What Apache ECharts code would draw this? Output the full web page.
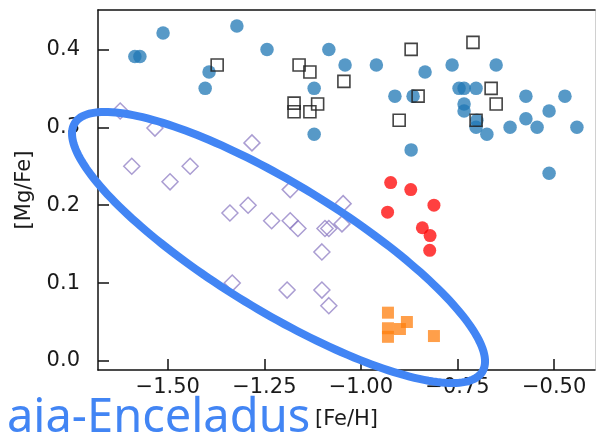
<!DOCTYPE html>
<html>
<head>
<meta charset="utf-8">
<script src="https://cdn.jsdelivr.net/npm/echarts@6.0.0/dist/echarts.min.js"></script>
<style>
  html, body { margin: 0; padding: 0; background: #fff; }
  #chart { width: 598px; height: 432px; }
</style>
</head>
<body>
<div id="chart"></div>
<script>
// Tick positions
const xTicks = [-1.5, -1.25, -1.0, -0.75, -0.5];
const yTicks = [0.0, 0.1, 0.2, 0.3, 0.4];

// [Fe/H], [Mg/Fe] pairs for each star group
const blueStars = [
  [-1.585, 0.391], [-1.572, 0.391], [-1.512, 0.421], [-1.321, 0.430], [-1.243, 0.400],
  [-1.393, 0.371], [-1.403, 0.350], [-1.083, 0.400], [-1.041, 0.380], [-0.960, 0.380],
  [-0.834, 0.371], [-1.121, 0.350], [-1.121, 0.291], [-0.912, 0.340], [-0.865, 0.340],
  [-0.870, 0.271], [-0.764, 0.380], [-0.650, 0.380], [-0.746, 0.350], [-0.733, 0.350],
  [-0.702, 0.350], [-0.733, 0.330], [-0.733, 0.321], [-0.700, 0.309], [-0.702, 0.300],
  [-0.674, 0.291], [-0.614, 0.300], [-0.573, 0.340], [-0.573, 0.311], [-0.544, 0.300],
  [-0.513, 0.321], [-0.472, 0.340], [-0.441, 0.300], [-0.513, 0.241]
];
const openSquares = [
  [-1.372, 0.380], [-1.160, 0.380], [-1.132, 0.371], [-1.044, 0.359], [-1.173, 0.331],
  [-1.173, 0.320], [-1.112, 0.330], [-1.132, 0.320], [-0.870, 0.400], [-0.901, 0.309],
  [-0.852, 0.340], [-0.710, 0.409], [-0.663, 0.350], [-0.650, 0.330], [-0.702, 0.309]
];
const diamondStars = [
  [-1.623, 0.321], [-1.533, 0.299], [-1.282, 0.280], [-1.593, 0.250], [-1.442, 0.250],
  [-1.494, 0.230], [-1.183, 0.220], [-1.339, 0.190], [-1.292, 0.200], [-1.231, 0.180],
  [-1.183, 0.180], [-1.163, 0.170], [-1.093, 0.170], [-1.083, 0.170], [-1.049, 0.176],
  [-1.046, 0.202], [-1.101, 0.140], [-1.333, 0.100], [-1.191, 0.091], [-1.101, 0.091],
  [-1.083, 0.071]
];
const redStars = [
  [-0.923, 0.229], [-0.871, 0.220], [-0.811, 0.200], [-0.931, 0.191],
  [-0.841, 0.171], [-0.821, 0.161], [-0.822, 0.142]
];
const orangeStars = [
  [-0.930, 0.062], [-0.881, 0.050], [-0.930, 0.042], [-0.899, 0.041],
  [-0.930, 0.031], [-0.811, 0.032]
];

// Highlight ellipse: centre in data units, half-axes in pixels, tilt in degrees
const ringCenter = [-1.2132, 0.1457];
const ringRadii = [238.7, 63.6];
const ringTilt = 31.35;

const X_MIN = -1.6804, X_MAX = -0.3942;
const Y_MIN = -0.0116, Y_MAX = 0.4506;

const fmtX = v => (v < 0 ? '\u2212' : '') + Math.abs(v).toFixed(2);
const fmtY = v => v.toFixed(1);

const tickFont = { fontFamily: 'DejaVu Sans', fontSize: 21, color: '#1a1a1a' };

const chart = echarts.init(document.getElementById('chart'), null, { renderer: 'canvas' });

const option = {
  animation: false,
  backgroundColor: '#fff',
  grid: { left: 98, right: 3, top: 10, bottom: 62, outerBoundsMode: 'none' },
  xAxis: [{
    type: 'value', min: X_MIN, max: X_MAX, position: 'bottom',
    name: '[Fe/H]', nameLocation: 'middle', nameGap: 39,
    nameTextStyle: { fontFamily: 'DejaVu Sans', fontSize: 21, color: '#1a1a1a' },
    axisLine: { show: true, onZero: false, lineStyle: { color: '#111', width: 1.5 } },
    axisTick: { show: true, inside: true, length: 11, customValues: xTicks, lineStyle: { color: '#111', width: 1.5 } },
    axisLabel: Object.assign({ customValues: xTicks, formatter: fmtX, margin: 7 }, tickFont),
    splitLine: { show: false }
  }, {
    type: 'value', min: X_MIN, max: X_MAX, position: 'top',
    axisLine: { show: true, onZero: false, lineStyle: { color: '#111', width: 1.5 } },
    axisTick: { show: false }, axisLabel: { show: false }, splitLine: { show: false }
  }],
  yAxis: [{
    type: 'value', min: Y_MIN, max: Y_MAX, position: 'left',
    name: '[Mg/Fe]', nameLocation: 'middle', nameGap: 63, nameRotate: 90,
    nameTextStyle: { fontFamily: 'DejaVu Sans', fontSize: 21, color: '#1a1a1a' },
    axisLine: { show: true, onZero: false, lineStyle: { color: '#111', width: 1.5 } },
    axisTick: { show: true, inside: true, length: 11, customValues: yTicks, lineStyle: { color: '#111', width: 1.5 } },
    axisLabel: Object.assign({ customValues: yTicks, formatter: fmtY, margin: 18 }, tickFont),
    splitLine: { show: false }
  }, {
    type: 'value', min: Y_MIN, max: Y_MAX, position: 'right',
    axisLine: { show: true, onZero: false, lineStyle: { color: '#d0d0d0', width: 1 } },
    axisTick: { show: false }, axisLabel: { show: false }, splitLine: { show: false }
  }],
  series: [
    {
      name: 'blue', type: 'scatter', data: blueStars, symbol: 'circle', symbolSize: 13.5,
      itemStyle: { color: '#1f77b4', opacity: 0.75 }
    },
    {
      name: 'squares', type: 'scatter', data: openSquares, symbol: 'rect', symbolSize: 12,
      itemStyle: { color: 'rgba(0,0,0,0)', borderColor: '#222', borderWidth: 1.6, opacity: 0.85 }
    },
    {
      name: 'red', type: 'scatter', data: redStars, symbol: 'circle', symbolSize: 13,
      itemStyle: { color: '#ff0000', opacity: 0.75 }
    },
    {
      name: 'orange', type: 'scatter', data: orangeStars, symbol: 'rect', symbolSize: 12,
      itemStyle: { color: '#ff7f0e', opacity: 0.75 }
    },
    {
      name: 'diamonds', type: 'scatter', data: diamondStars, symbol: 'diamond', symbolSize: 16,
      itemStyle: { color: 'rgba(0,0,0,0)', borderColor: '#8e7cc3', borderWidth: 1.5, opacity: 0.75 }
    }
  ]
};

chart.setOption(option);

// Build the tilted ellipse outline around the diamond group
const c = chart.convertToPixel({ gridIndex: 0 }, ringCenter);
const t = ringTilt * Math.PI / 180;
const pts = [];
for (let i = 0; i < 200; i++) {
  const a = (i / 200) * Math.PI * 2;
  const ex = ringRadii[0] * Math.cos(a), ey = ringRadii[1] * Math.sin(a);
  pts.push([c[0] + ex * Math.cos(t) - ey * Math.sin(t), c[1] + ex * Math.sin(t) + ey * Math.cos(t)]);
}

chart.setOption({
  graphic: [
    {
      type: 'polygon', z: 100, silent: true,
      shape: { points: pts },
      style: { fill: 'none', stroke: '#4285f4', lineWidth: 8 }
    },
    {
      type: 'text', z: 100, left: 7, top: 395, silent: true,
      style: { text: 'aia-Enceladus', fontFamily: 'Noto Sans', fontSize: 47, fill: '#4285f4' }
    }
  ]
});
</script>
</body>
</html>
